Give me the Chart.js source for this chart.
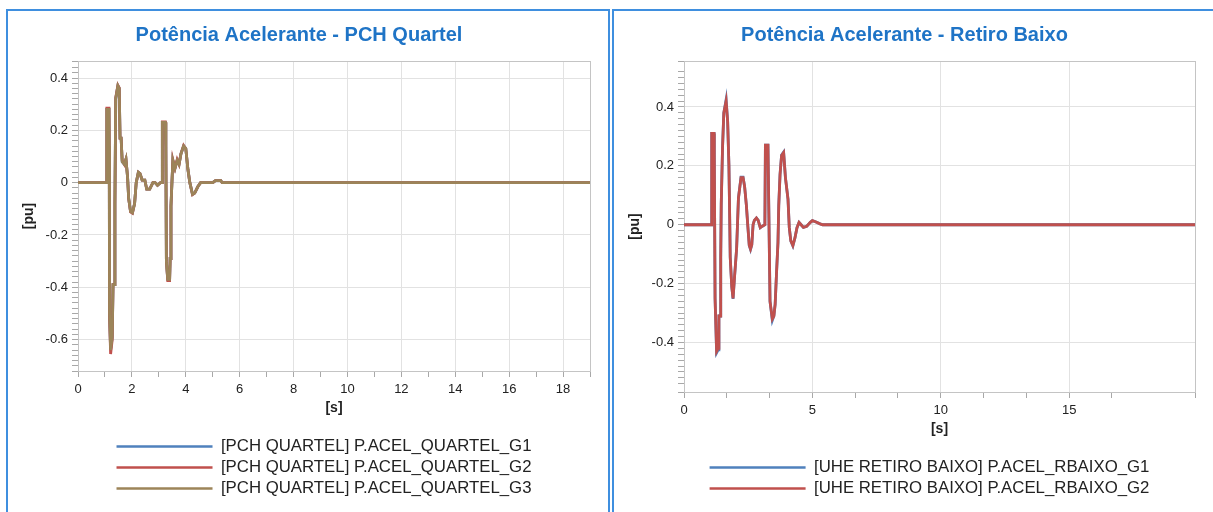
<!DOCTYPE html>
<html>
<head>
<meta charset="utf-8">
<script src="https://cdn.jsdelivr.net/npm/chart.js@4.4.1/dist/chart.umd.min.js"></script>
<style>
  html, body { margin: 0; padding: 0; background: #fff; width: 1213px; height: 512px; overflow: hidden; }
  .panel { position: absolute; top: 9px; border: 2px solid #3f8fdf; border-bottom: none; background: #fff; }
  #p1 { left: 6px; width: 600px; height: 503px; }
  #p2 { left: 612px; width: 600px; height: 503px; }
  .panel canvas { display: block; }
</style>
</head>
<body>
<div class="panel" id="p1"><canvas id="c1" width="600" height="501"></canvas></div>
<div class="panel" id="p2"><canvas id="c2" width="600" height="501"></canvas></div>
<script>
// PCH Quartel — tempo [s] e potência acelerante [pu]
const T_QUARTEL = [0, 1.06, 1.07, 1.15, 1.16, 1.17, 1.21, 1.27, 1.30, 1.35, 1.37, 1.40, 1.48, 1.53, 1.56, 1.60,
  1.64, 1.72, 1.78, 1.84, 1.88, 1.95, 2.02, 2.10, 2.16, 2.24, 2.30, 2.38, 2.48, 2.55, 2.66, 2.78, 2.86, 2.95,
  3.06, 3.12, 3.13, 3.24, 3.26, 3.28, 3.33, 3.40, 3.42, 3.45, 3.52, 3.60, 3.68, 3.75, 3.82, 3.92, 4.00, 4.08,
  4.15, 4.25, 4.33, 4.45, 4.55, 5.00, 5.10, 5.30, 5.35, 19];
const P_QUARTEL_G1 = [0, 0, 0.28, 0.28, 0.14, -0.50, -0.64, -0.59, -0.39, -0.39, -0.08, 0.32, 0.37, 0.36, 0.17, 0.17,
  0.08, 0.07, 0.09, 0.02, -0.06, -0.11, -0.115, -0.08, 0.0, 0.04, 0.035, 0.01, 0.01, -0.025, -0.025, 0.0, 0.0, -0.01,
  0.0, 0.0, 0.23, 0.23, 0.14, -0.30, -0.37, -0.37, -0.29, -0.09, 0.085, 0.055, 0.085, 0.07, 0.11, 0.14, 0.13, 0.05,
  0.0, -0.045, -0.04, -0.015, 0.0, 0.0, 0.008, 0.008, 0, 0];
const P_QUARTEL_G2 = [0, 0, 0.285, 0.285, 0.14, -0.51, -0.655, -0.60, -0.39, -0.39, -0.08, 0.325, 0.372, 0.362, 0.17, 0.17,
  0.085, 0.07, 0.09, 0.02, -0.06, -0.112, -0.117, -0.08, 0.0, 0.04, 0.035, 0.01, 0.01, -0.025, -0.025, 0.0, 0.0, -0.01,
  0.0, 0.0, 0.232, 0.232, 0.14, -0.30, -0.374, -0.374, -0.29, -0.09, 0.088, 0.055, 0.088, 0.07, 0.11, 0.142, 0.13, 0.05,
  0.0, -0.046, -0.04, -0.015, 0.0, 0.0, 0.008, 0.008, 0, 0];
const P_QUARTEL_G3 = [0, 0, 0.28, 0.28, 0.14, -0.50, -0.64, -0.59, -0.39, -0.39, -0.08, 0.32, 0.37, 0.36, 0.17, 0.17,
  0.08, 0.07, 0.09, 0.02, -0.06, -0.11, -0.115, -0.08, 0.0, 0.04, 0.035, 0.01, 0.01, -0.025, -0.025, 0.0, 0.0, -0.01,
  0.0, 0.0, 0.23, 0.23, 0.14, -0.30, -0.37, -0.37, -0.29, -0.09, 0.085, 0.055, 0.085, 0.07, 0.11, 0.14, 0.13, 0.05,
  0.0, -0.045, -0.04, -0.015, 0.0, 0.0, 0.008, 0.008, 0, 0];

// UHE Retiro Baixo
const T_RBAIXO = [0, 1.07, 1.08, 1.17, 1.18, 1.21, 1.27, 1.33, 1.36, 1.41, 1.43, 1.45, 1.50, 1.55, 1.64, 1.70, 1.75,
  1.78, 1.80, 1.86, 1.91, 1.97, 2.05, 2.12, 2.22, 2.30, 2.36, 2.43, 2.49, 2.54, 2.59, 2.64, 2.69, 2.74, 2.82, 2.89,
  2.97, 3.05, 3.15, 3.17, 3.27, 3.30, 3.35, 3.44, 3.50, 3.55, 3.60, 3.66, 3.69, 3.74, 3.80, 3.88, 3.95, 4.05, 4.10,
  4.16, 4.24, 4.32, 4.40, 4.48, 4.56, 4.65, 4.78, 4.92, 5.00, 5.12, 5.30, 5.40, 19.9];
const P_RBAIXO_G1 = [0, 0, 0.31, 0.31, 0.24, -0.25, -0.435, -0.425, -0.31, -0.31, -0.11, 0.07, 0.26, 0.38, 0.425, 0.35, 0.20,
  0.02, -0.11, -0.21, -0.252, -0.175, -0.08, 0.09, 0.162, 0.162, 0.13, 0.065, -0.01, -0.07, -0.084, -0.068, 0.0, 0.015,
  0.023, 0.015, -0.01, -0.005, 0.0, 0.27, 0.27, 0.07, -0.26, -0.325, -0.31, -0.27, -0.17, -0.06, 0.065, 0.17, 0.237,
  0.247, 0.16, 0.087, -0.01, -0.055, -0.072, -0.045, -0.01, 0.008, 0.0, -0.009, -0.005, 0.008, 0.014, 0.01, 0.003, 0, 0];
const P_RBAIXO_G2 = [0, 0, 0.31, 0.31, 0.24, -0.25, -0.43, -0.42, -0.31, -0.31, -0.11, 0.07, 0.26, 0.38, 0.42, 0.35, 0.20,
  0.02, -0.11, -0.21, -0.25, -0.175, -0.08, 0.09, 0.16, 0.16, 0.13, 0.065, -0.01, -0.07, -0.083, -0.068, 0.0, 0.015,
  0.023, 0.015, -0.01, -0.005, 0.0, 0.27, 0.27, 0.07, -0.26, -0.32, -0.31, -0.27, -0.17, -0.06, 0.065, 0.17, 0.235,
  0.245, 0.16, 0.087, -0.01, -0.055, -0.071, -0.045, -0.01, 0.008, 0.0, -0.009, -0.005, 0.008, 0.014, 0.01, 0.003, 0, 0];

const BLUE = "#4f81bd", RED = "#c0504d", BROWN = "#9c8459";
const GRID = "#e2e2e2", AXIS = "#a8a8a8", TXT = "#222";

Chart.defaults.font.family = 'Arial, "Liberation Sans", sans-serif';

const isMajor = (v, m) => Math.abs(v / m - Math.round(v / m)) < 1e-6;
const fmt = (v) => String(Math.round(v * 10) / 10);
const pts = (t, y) => t.map((x, i) => ({ x, y: y[i] }));

// moldura cinza em volta da área do gráfico + legenda um pouco à esquerda (como no original)
const frame = {
  id: "frame",
  afterLayout(chart) {
    chart.legend.left -= 10; chart.legend.right -= 10;
  },
  beforeDatasetsDraw(chart) {
    const a = chart.chartArea, c = chart.ctx;
    c.save(); c.strokeStyle = "#c4c4c4"; c.lineWidth = 1;
    c.strokeRect(Math.round(a.left) + 0.5, Math.round(a.top) + 0.5, Math.round(a.width), Math.round(a.height));
    c.restore();
  },
};

function xScale(max, step, major) {
  return {
    type: "linear", min: 0, max,
    border: { color: AXIS },
    grid: { color: (c) => isMajor(c.tick.value, major) && c.tick.value > 0 ? GRID : "rgba(0,0,0,0)",
            tickColor: AXIS, tickLength: 6 },
    ticks: { stepSize: step, autoSkip: false, maxRotation: 0, padding: 5, color: TXT, font: { size: 13 },
             callback: (v) => isMajor(v, major) ? fmt(v) : "" },
    title: { display: true, text: "[s]", color: TXT, font: { size: 14, weight: "bold" }, padding: { top: 0, bottom: 17 } },
    afterFit: (s) => { s.height = 63; },
  };
}

function yScale(min, max) {
  return {
    type: "linear", min, max,
    border: { color: AXIS },
    grid: { color: (c) => isMajor(c.tick.value, 0.2) ? GRID : "rgba(0,0,0,0)", tickColor: AXIS, tickLength: 6 },
    ticks: { stepSize: 0.02, autoSkip: false, padding: 4, color: TXT, font: { size: 13 },
             callback: (v) => isMajor(v, 0.2) ? fmt(v) : "" },
    title: { display: true, text: "[pu]", color: TXT, font: { size: 14, weight: "bold" }, padding: { top: 13, bottom: 0 } },
    afterFit: (s) => { s.width = 70; },
  };
}

function series(label, t, y, color, order) {
  return { label, data: pts(t, y), borderColor: color, backgroundColor: color, borderWidth: 2.8,
           pointRadius: 0, tension: 0, order };
}

function makeChart(id, title, datasets, xs, ys, padRight) {
  return new Chart(document.getElementById(id), {
    type: "line",
    data: { datasets },
    options: {
      responsive: false, animation: false,
      layout: { padding: { left: 0, right: padRight, top: 0, bottom: 5 } },
      scales: { x: xs, y: ys },
      plugins: {
        title: { display: true, text: title, color: "#1f74c6", font: { size: 20, weight: "bold" },
                 padding: { top: 12, bottom: 14 } },
        legend: {
          position: "bottom", fullSize: false,
          labels: {
            boxWidth: 96, boxHeight: 2.5, padding: 4.2, color: TXT, font: { size: 16.8 },
            sort: (a, b) => a.datasetIndex - b.datasetIndex,
            generateLabels: (ch) => Chart.defaults.plugins.legend.labels.generateLabels(ch)
              .map((l) => Object.assign(l, { lineWidth: 0 })),
          },
        },
        tooltip: { enabled: false },
      },
    },
    plugins: [frame],
  });
}

makeChart("c1", "Potência Acelerante - PCH Quartel", [
  series("[PCH QUARTEL] P.ACEL_QUARTEL_G1", T_QUARTEL, P_QUARTEL_G1, BLUE, 2),
  series("[PCH QUARTEL] P.ACEL_QUARTEL_G2", T_QUARTEL, P_QUARTEL_G2, RED, 1),
  series("[PCH QUARTEL] P.ACEL_QUARTEL_G3", T_QUARTEL, P_QUARTEL_G3, BROWN, 0),
], xScale(19, 1, 2), yScale(-0.72, 0.465), 18);

makeChart("c2", "Potência Acelerante - Retiro Baixo", [
  series("[UHE RETIRO BAIXO] P.ACEL_RBAIXO_G1", T_RBAIXO, P_RBAIXO_G1, BLUE, 1),
  series("[UHE RETIRO BAIXO] P.ACEL_RBAIXO_G2", T_RBAIXO, P_RBAIXO_G2, RED, 0),
], xScale(19.9, 5 / 3, 5), yScale(-0.568, 0.556), 19);
</script>
</body>
</html>
